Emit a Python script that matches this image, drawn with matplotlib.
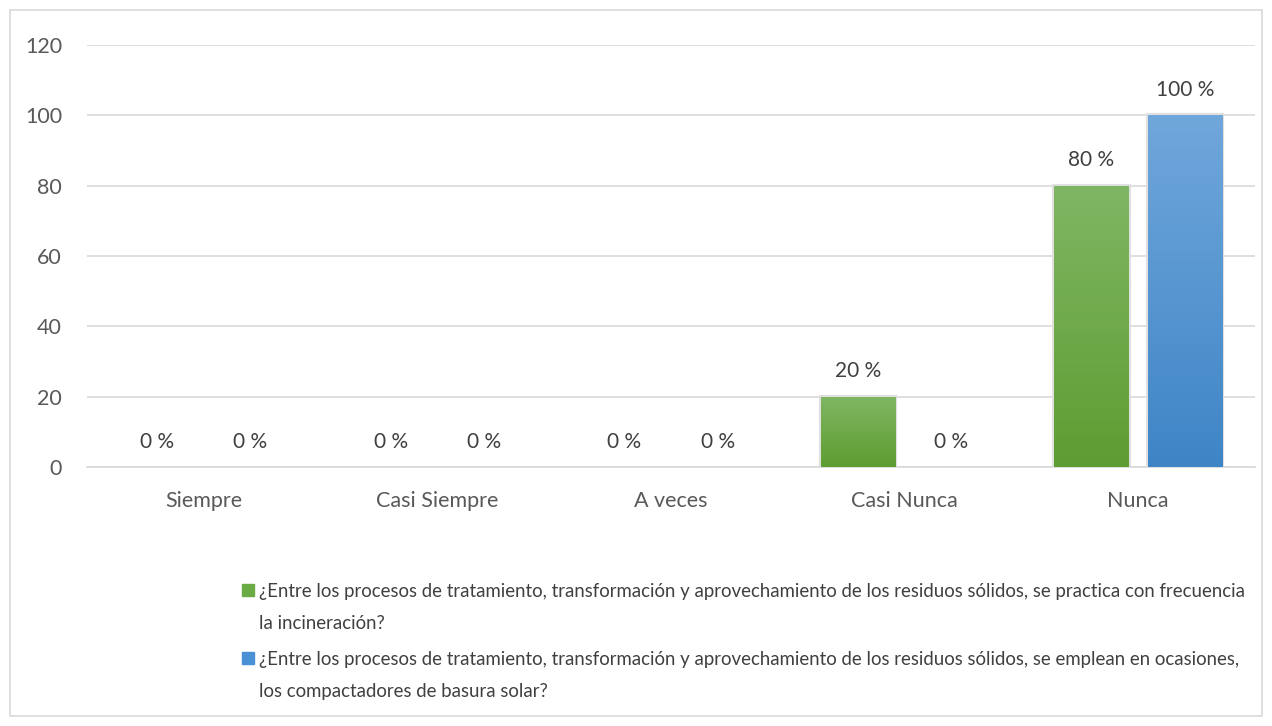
import numpy as np
import matplotlib.pyplot as plt
from matplotlib.patches import Rectangle
from matplotlib.colors import to_rgb

plt.rcParams['font.family'] = ['Lato', 'DejaVu Sans']

categories = ['Siempre', 'Casi Siempre', 'A veces', 'Casi Nunca', 'Nunca']
incineracion = [0, 0, 0, 20, 80]
compactadores = [0, 0, 0, 0, 100]
labels = [
    '¿Entre los procesos de tratamiento, transformación y aprovechamiento de los residuos sólidos, se practica con frecuencia\nla incineración?',
    '¿Entre los procesos de tratamiento, transformación y aprovechamiento de los residuos sólidos, se emplean en ocasiones,\nlos compactadores de basura solar?',
]
yticks = [0, 20, 40, 60, 80, 100, 120]

green_top, green_bot = '#7fb663', '#5e9d32'
blue_top, blue_bot = '#70a7db', '#3f85c6'
legend_colors = ['#6aab44', '#4a90d4']

W, H = 1272, 726
fig = plt.figure(figsize=(W / 100, H / 100), dpi=100)
fig.patches.append(Rectangle((10 / W, 10 / H), 1252 / W, 706 / H,
                             transform=fig.transFigure, fill=False,
                             edgecolor='#d9d9d9', linewidth=1.2))
ax = fig.add_axes([87 / W, 1 - 467 / H, 1168 / W, 422 / H])

x = np.arange(len(categories))
w = 0.317
off = 0.2


def gradient_bars(bars, top, bot):
    c1 = np.array(to_rgb(top))
    c2 = np.array(to_rgb(bot))
    t = np.linspace(0, 1, 64)[:, None]
    img = (c1 * (1 - t) + c2 * t)[:, None, :]
    for b in bars:
        h = b.get_height()
        if h <= 0:
            b.set_visible(False)
            continue
        x0 = b.get_x()
        im = ax.imshow(img, extent=[x0, x0 + b.get_width(), 0, h],
                       aspect='auto', zorder=3, interpolation='bilinear')
        im.set_clip_path(b)


b1 = ax.bar(x - off, incineracion, w, color=green_bot, edgecolor='#e0e0e0',
            linewidth=3, zorder=2)
b2 = ax.bar(x + off, compactadores, w, color=blue_bot, edgecolor='#e0e0e0',
            linewidth=3, zorder=2)

for bars in (b1, b2):
    ax.bar_label(bars, fmt='%d %%', padding=11, fontsize=15, color='#404040')

gradient_bars(b1, green_top, green_bot)
gradient_bars(b2, blue_top, blue_bot)

ax.set_xlim(-0.5, len(categories) - 0.5)
ax.set_ylim(0, 120)
ax.set_yticks(yticks)
ax.set_xticks(x)
ax.set_xticklabels(categories)
ax.grid(axis='y', color='#d9d9d9', linewidth=1.2, zorder=0)
ax.set_axisbelow(True)
for s in ['top', 'right', 'left']:
    ax.spines[s].set_visible(False)
ax.spines['bottom'].set_color('#d9d9d9')
ax.spines['bottom'].set_linewidth(1.2)
ax.tick_params(axis='both', length=0, labelsize=15.5, colors='#595959')
ax.tick_params(axis='y', pad=18)
ax.tick_params(axis='x', pad=17)

# legend drawn by hand so the marker sits on the first line
legend_y = [590, 658]
for lab, col, yy in zip(labels, legend_colors, legend_y):
    fig.patches.append(Rectangle((242 / W, 1 - (yy + 6) / H), 12 / W, 12 / H,
                                 transform=fig.transFigure, color=col))
    fig.text(259 / W, 1 - (yy - 7) / H, lab, fontsize=13.4, color='#404040',
             va='top', ha='left', linespacing=2.05)

fig.savefig('out.png', dpi=100)
